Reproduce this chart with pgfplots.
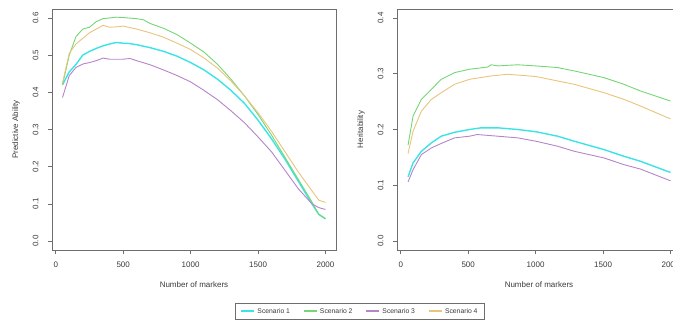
\documentclass[border=0pt]{standalone}
\usepackage{pgfplots}
\pgfplotsset{compat=1.18}
\usepackage{fontspec}
\setmainfont{Liberation Sans}
\definecolor{cS1}{HTML}{3CE3E6}
\definecolor{cS2}{HTML}{74D674}
\definecolor{cS3}{HTML}{B584C9}
\definecolor{cS4}{HTML}{E8C47C}
\definecolor{axgray}{HTML}{6E6E6E}
\definecolor{txtgray}{HTML}{3A3A3A}

\pgfplotsset{
  rstyle/.style={
    scale only axis,
    width=284pt, height=241pt,
    axis line style={axgray, line width=0.7pt},
    tick style={axgray, line width=0.6pt},
    tick align=outside,
    xtick pos=bottom, ytick pos=left,
    major tick length=4pt,
    xtick={0,500,1000,1500,2000},
    xmin=-28, xmax=2078,
    tick label style={font=\fontsize{8}{9}\selectfont, text=txtgray},
    label style={font=\fontsize{8}{9}\selectfont, text=txtgray},
    /pgf/number format/assume math mode=true,
    x tick label style={/pgf/number format/.cd, 1000 sep={}},
    yticklabel style={rotate=90, anchor=south, /pgf/number format/.cd, fixed, fixed zerofill, precision=1},
    xticklabel shift=4.5pt,
    yticklabel shift=6pt,
    xlabel={Number of markers},
    xlabel style={at={(axis description cs:0.5,-0.145)}, anchor=center},
    ylabel style={at={(axis description cs:-0.127,0.5)}, anchor=center, rotate=0},
    every axis plot/.append style={line width=0.9pt, no markers},
  }
}

\begin{document}
\begin{tikzpicture}[x=1pt,y=1pt]
\path[use as bounding box] (0,0) rectangle (673,322);
\clip (0,0) rectangle (673,322);

\begin{axis}[rstyle,
  at={(52pt,72pt)}, anchor=south west,
  ymin=-0.024, ymax=0.624,
  ytick={0,0.1,0.2,0.3,0.4,0.5,0.6},
  ylabel={Predictive Ability},
  legend columns=4,
  legend style={at={(1.0845,-0.255)}, anchor=center,
    font=\fontsize{6.8}{8}\selectfont,
    draw=axgray, inner xsep=5pt, inner ysep=3pt,
    /tikz/every even column/.append style={column sep=11pt}},
]
\addlegendimage{legend image code/.code={\draw[draw=cS1, line width=2pt] (0pt,0pt) -- (13pt,0pt);}}
\addlegendentry{\textcolor{txtgray}{Scenario 1}}
\addlegendimage{legend image code/.code={\draw[draw=cS2, line width=2pt] (0pt,0pt) -- (13pt,0pt);}}
\addlegendentry{\textcolor{txtgray}{Scenario 2}}
\addlegendimage{legend image code/.code={\draw[draw=cS3, line width=2pt] (0pt,0pt) -- (13pt,0pt);}}
\addlegendentry{\textcolor{txtgray}{Scenario 3}}
\addlegendimage{legend image code/.code={\draw[draw=cS4, line width=2pt] (0pt,0pt) -- (13pt,0pt);}}
\addlegendentry{\textcolor{txtgray}{Scenario 4}}
\addplot[draw=cS1, line width=1.4pt, forget plot] coordinates {
(50,0.42) (100,0.455) (150,0.475) (200,0.500) (250,0.510) (300,0.518) (350,0.525) (400,0.530) (450,0.534) (500,0.532) (550,0.531) (600,0.528) (700,0.520) (800,0.510) (900,0.497) (1000,0.480) (1100,0.460) (1200,0.435) (1300,0.405) (1400,0.370) (1500,0.325) (1600,0.275) (1700,0.220) (1800,0.160) (1900,0.100) (1950,0.072) (2000,0.060)};
\addplot[draw=cS2, forget plot] coordinates {
(50,0.42) (100,0.50) (150,0.550) (200,0.570) (250,0.575) (300,0.590) (350,0.598) (400,0.600) (450,0.602) (500,0.601) (600,0.598) (650,0.595) (700,0.585) (800,0.572) (900,0.555) (1000,0.532) (1100,0.508) (1200,0.475) (1300,0.435) (1400,0.390) (1500,0.340) (1600,0.285) (1700,0.225) (1800,0.165) (1900,0.105) (1950,0.072) (2000,0.060)};
\addplot[draw=cS3, forget plot] coordinates {
(50,0.386) (100,0.445) (150,0.467) (200,0.476) (250,0.480) (300,0.485) (350,0.492) (400,0.489) (500,0.489) (550,0.491) (600,0.485) (700,0.474) (800,0.460) (900,0.445) (1000,0.428) (1100,0.405) (1200,0.380) (1300,0.350) (1400,0.318) (1500,0.280) (1600,0.240) (1700,0.190) (1800,0.140) (1900,0.100) (1950,0.090) (2000,0.085)};
\addplot[draw=cS4, forget plot] coordinates {
(50,0.425) (100,0.505) (150,0.530) (200,0.545) (250,0.560) (300,0.570) (350,0.580) (400,0.575) (450,0.576) (500,0.578) (600,0.570) (700,0.560) (800,0.548) (900,0.532) (1000,0.515) (1100,0.492) (1200,0.465) (1300,0.430) (1400,0.390) (1500,0.345) (1600,0.295) (1700,0.240) (1800,0.185) (1900,0.135) (1950,0.110) (2000,0.104)};
\end{axis}

\begin{axis}[rstyle,
  at={(397pt,72pt)}, anchor=south west,
  ymin=-0.016, ymax=0.416,
  ytick={0,0.1,0.2,0.3,0.4},
  ylabel={Heritability},
]
\addplot[draw=cS1, line width=1.4pt] coordinates {
(54,0.115) (91,0.140) (153,0.161) (227,0.176) (300,0.188) (399,0.195) (510,0.200) (596,0.203) (719,0.203) (867,0.200) (1002,0.196) (1163,0.188) (1286,0.179) (1507,0.164) (1655,0.152) (1778,0.143) (2000,0.123)};
\addplot[draw=cS2] coordinates {
(54,0.172) (91,0.224) (153,0.254) (227,0.272) (300,0.290) (399,0.302) (510,0.308) (645,0.312) (670,0.316) (719,0.314) (867,0.316) (1002,0.314) (1163,0.311) (1286,0.305) (1507,0.293) (1655,0.281) (1778,0.269) (2000,0.251)};
\addplot[draw=cS3] coordinates {
(54,0.106) (91,0.128) (153,0.155) (227,0.167) (300,0.175) (399,0.185) (510,0.188) (567,0.191) (719,0.188) (867,0.185) (1002,0.179) (1163,0.170) (1286,0.161) (1507,0.149) (1655,0.137) (1778,0.129) (2000,0.108)};
\addplot[draw=cS4] coordinates {
(54,0.157) (91,0.197) (153,0.233) (227,0.254) (300,0.266) (399,0.281) (510,0.290) (670,0.296) (793,0.299) (1002,0.295) (1163,0.287) (1286,0.281) (1507,0.266) (1655,0.254) (1778,0.242) (2000,0.219)};
\end{axis}
\end{tikzpicture}
\end{document}
